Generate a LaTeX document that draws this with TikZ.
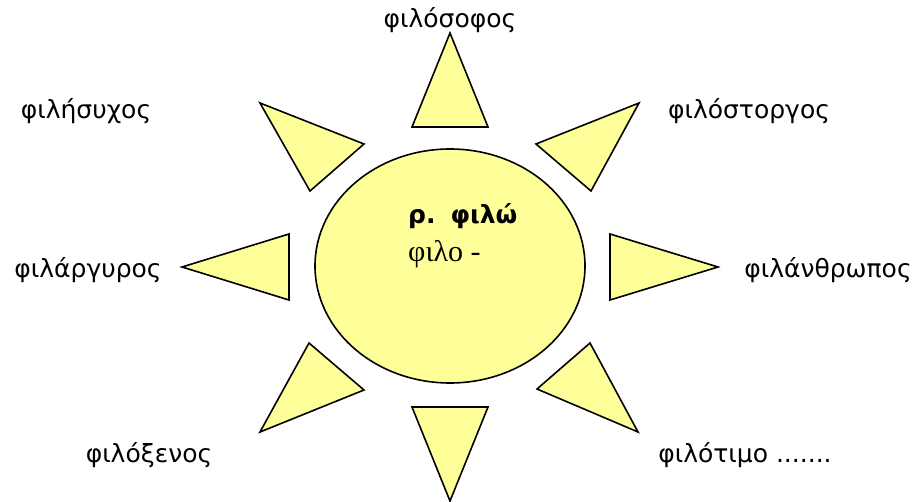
\documentclass[tikz,border=0pt]{standalone}
\usepackage{fontspec}
\setmainfont{DejaVu Sans}
\newfontfamily\serifgr{Liberation Serif}
\begin{document}
\begin{tikzpicture}[x=1pt,y=-1pt,
  ray/.style={draw=black,fill=sunyellow,line width=1.6pt,line join=miter},
  lbl/.style={font=\fontsize{25}{30}\selectfont,inner sep=0pt}]
\definecolor{sunyellow}{HTML}{FFFF99}
\useasboundingbox (0,0) rectangle (923,502);
% sun body
\draw[ray] (450,266) ellipse [x radius=135, y radius=117];
% rays
\draw[ray] (450,33) -- (412,127) -- (488,127) -- cycle;
\draw[ray] (450,501) -- (412,407) -- (488,407) -- cycle;
\draw[ray] (182,267) -- (289,234) -- (289,300) -- cycle;
\draw[ray] (718,267) -- (610,234) -- (610,300) -- cycle;
\draw[ray] (260,103) -- (364,144) -- (310,191) -- cycle;
\draw[ray] (639,103) -- (536,144) -- (591,191) -- cycle;
\draw[ray] (260,432) -- (309,343) -- (364,390) -- cycle;
\draw[ray] (638,432) -- (590,343) -- (537,389) -- cycle;
% labels
\node[lbl] (n1) at (450,20) {φιλόσοφος};
\node[lbl] (n2) at (86,111) {φιλήσυχος};
\node[lbl] (n3) at (749,111) {φιλόστοργος};
\node[lbl] (n4) at (88,270) {φιλάργυρος};
\node[lbl] (n5) at (828,270) {φιλάνθρωπος};
\node[lbl] (n6) at (149,455) {φιλόξενος};
\node[lbl] (n7) at (745,455) {φιλότιμο .......};
% centre text
\node[lbl,anchor=west,font=\fontsize{25}{30}\selectfont\bfseries] (c1) at (408,216) {ρ.\hspace{0.6em}φιλώ};
\node[anchor=west,inner sep=0pt,font=\serifgr\fontsize{30}{36}\selectfont] (c2) at (408,254) {φιλο -};
\end{tikzpicture}
\end{document}
